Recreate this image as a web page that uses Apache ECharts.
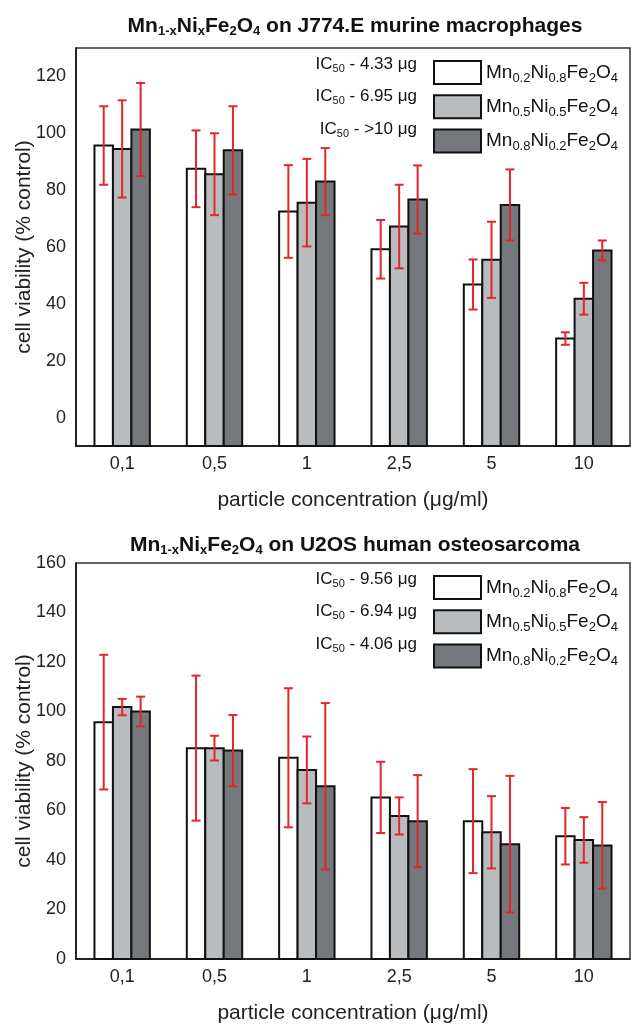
<!DOCTYPE html>
<html>
<head>
<meta charset="utf-8">
<script src="https://cdn.jsdelivr.net/npm/echarts@6/dist/echarts.min.js"></script>
<style>
  body { margin: 0; background: #fff; }
  #top { width: 631px; height: 512px; }
  #bottom { width: 631px; height: 513px; }
</style>
</head>
<body>
<div id="top"></div>
<div id="bottom"></div>
<script>
const categories = ['0,1', '0,5', '1', '2,5', '5', '10']
const seriesNames = ['Mn0.2Ni0.8Fe2O4', 'Mn0.5Ni0.5Fe2O4', 'Mn0.8Ni0.2Fe2O4']

// J774.E murine macrophages
const macroLow = [95.7, 87.5, 72.5, 59.2, 46.8, 27.8]
const macroLowErr = [13.8, 13.5, 16.3, 10.3, 8.8, 2.2]
const macroMid = [94.5, 85.6, 75.6, 67.2, 55.5, 41.8]
const macroMidErr = [17.1, 14.4, 15.4, 14.7, 13.4, 5.6]
const macroHigh = [101.3, 94.0, 83.0, 76.7, 74.8, 58.8]
const macroHighErr = [16.4, 15.5, 11.8, 12.0, 12.5, 3.5]
const macroIC50 = ['4.33', '6.95', '>10']
const macroTicks = [0, 20, 40, 60, 80, 100, 120]

// U2OS human osteosarcoma
const osteoLow = [95.7, 85.2, 81.3, 65.3, 55.7, 49.6]
const osteoLowErr = [27.2, 29.3, 28.1, 14.4, 21.0, 11.4]
const osteoMid = [101.8, 85.2, 76.4, 57.8, 51.2, 48.1]
const osteoMidErr = [3.3, 5.0, 13.5, 7.5, 14.6, 9.2]
const osteoHigh = [100.0, 84.2, 69.8, 55.7, 46.4, 45.9]
const osteoHighErr = [6.0, 14.4, 33.6, 18.6, 27.6, 17.5]
const osteoIC50 = ['9.56', '6.94', '4.06']
const osteoTicks = [0, 20, 40, 60, 80, 100, 120, 140, 160]

const FONT = '"Liberation Sans", Arial, sans-serif'
const RED = '#e3262b'
const FILLS = ['#ffffff', '#b9bcbf', '#75787c']
const BORDER = '#111'
const BAR_RATIO = 0.2

// 'Mn0.2Ni0.8Fe2O4' -> rich text with subscripts
function chem(name) {
  return name.replace(/([A-Z][a-z]?)([\d.\-x]+)/g, '{m|$1}{s|$2}')
}

// bars are drawn from the axis minimum (Origin style), not from 0
function barItem(offset, base) {
  return function (params, api) {
    const bw = api.size([1, 0])[0] * BAR_RATIO
    const top = api.coord([api.value(0), api.value(1)])
    const bottom = api.coord([api.value(0), base])
    return {
      type: 'rect',
      shape: { x: top[0] + offset * bw - bw / 2, y: top[1], width: bw, height: bottom[1] - top[1] },
      style: api.style()
    }
  }
}

function errorItem(offset) {
  return function (params, api) {
    const bw = api.size([1, 0])[0] * BAR_RATIO
    const x = api.coord([api.value(0), 0])[0] + offset * bw
    const hi = api.coord([api.value(0), api.value(1) + api.value(2)])[1]
    const lo = api.coord([api.value(0), api.value(1) - api.value(2)])[1]
    const cap = 4.5
    const style = { stroke: RED, lineWidth: 2 }
    return {
      type: 'group',
      children: [
        { type: 'line', shape: { x1: x, y1: hi, x2: x, y2: lo }, style },
        { type: 'line', shape: { x1: x - cap, y1: hi, x2: x + cap, y2: hi }, style },
        { type: 'line', shape: { x1: x - cap, y1: lo, x2: x + cap, y2: lo }, style }
      ]
    }
  }
}

function makeOption(cfg) {
  const series = []
  cfg.values.forEach((vals, i) => {
    series.push({
      name: seriesNames[i],
      type: 'custom',
      renderItem: barItem(i - 1, cfg.min),
      data: vals.map((v, k) => [k, v]),
      encode: { x: 0, y: 1 },
      itemStyle: { color: FILLS[i], borderColor: BORDER, borderWidth: 2 },
      z: 2
    })
  })
  cfg.errors.forEach((errs, i) => {
    series.push({
      name: 'err' + i,
      type: 'custom',
      renderItem: errorItem(i - 1),
      data: errs.map((e, k) => [k, cfg.values[i][k], e]),
      encode: { x: 0, y: 1 },
      z: 5
    })
  })

  const rows = cfg.ic50.map((v, i) => ({
    type: 'text',
    right: 631 - 417,
    top: cfg.legendTop + i * 32.3 + 1,
    style: {
      text: '{a|IC}{s|50}{a| - ' + v + ' \u03bcg}',
      fill: '#111',
      rich: {
        a: { fontSize: 17, fontFamily: FONT, fill: '#111' },
        s: { fontSize: 11, fontFamily: FONT, fill: '#111', verticalAlign: 'bottom', padding: [9, 0, 0, 0] }
      }
    }
  }))

  return {
    animation: false,
    title: {
      text: chem(cfg.title).replace(/\{m\|/g, '{t|') + '{t|' + cfg.titleRest + '}',
      left: 350,
      textAlign: 'center',
      top: cfg.titleTop,
      textStyle: {
        rich: {
          t: { fontSize: 21, fontWeight: 'bold', fontFamily: FONT, color: '#111' },
          s: { fontSize: 13, fontWeight: 'bold', fontFamily: FONT, color: '#111', verticalAlign: 'bottom', padding: [11, 0, 0, 0] }
        }
      }
    },
    legend: {
      data: seriesNames.map((n, i) => ({
        name: n,
        itemStyle: { color: FILLS[i], borderColor: BORDER, borderWidth: 2 }
      })),
      orient: 'vertical',
      left: 428,
      top: cfg.legendTop,
      itemWidth: 47,
      itemHeight: 23,
      itemGap: 9.3,
      icon: 'rect',
      selectedMode: false,
      formatter: chem,
      textStyle: {
        rich: {
          m: { fontSize: 19, fontFamily: FONT, color: '#111' },
          s: { fontSize: 13, fontFamily: FONT, color: '#111', verticalAlign: 'bottom', padding: [11, 0, 0, 0] }
        }
      }
    },
    graphic: rows,
    grid: {
      left: 76, right: 1, top: cfg.gridTop, bottom: 66,
      outerBoundsMode: 'none',
      containLabel: false,
      show: true, borderColor: '#333', borderWidth: 1.5
    },
    xAxis: [{
      type: 'category',
      data: categories,
      axisLine: { onZero: false, lineStyle: { color: '#111', width: 1.5 } },
      axisTick: { alignWithLabel: true, length: 5, lineStyle: { color: '#111', width: 1.2 } },
      axisLabel: { fontSize: 18, fontFamily: FONT, color: '#222', margin: 9 },
      name: 'particle concentration (\u03bcg/ml)',
      nameLocation: 'middle',
      nameGap: 44,
      nameMoveOverlap: false,
      nameTextStyle: { fontSize: 21, fontFamily: FONT, color: '#222' }
    }, {
      type: 'category',
      data: categories,
      position: 'bottom',
      axisLine: { show: false, onZero: false },
      axisTick: { length: 5, lineStyle: { color: '#111', width: 1.2 } },
      axisLabel: { show: false }
    }],
    yAxis: [{
      type: 'value',
      min: cfg.min,
      max: cfg.max,
      interval: 10,
      splitLine: { show: false },
      axisLine: { show: true, lineStyle: { color: '#111', width: 1.5 } },
      axisTick: { length: 3.5, lineStyle: { color: '#111', width: 1.2 } },
      axisLabel: { customValues: cfg.ticks, fontSize: 18, fontFamily: FONT, color: '#222', margin: 10 },
      name: 'cell viability (% control)',
      nameLocation: 'middle',
      nameGap: 41,
      nameMoveOverlap: false,
      nameTextStyle: { fontSize: 21, fontFamily: FONT, color: '#222' }
    }, {
      type: 'value',
      min: cfg.min,
      max: cfg.max,
      interval: 10,
      position: 'left',
      splitLine: { show: false },
      axisLine: { show: false },
      axisTick: { customValues: cfg.ticks, length: 7, lineStyle: { color: '#111', width: 1.2 } },
      axisLabel: { show: false }
    }],
    series
  }
}

const topChart = echarts.init(document.getElementById('top'))
topChart.setOption(makeOption({
  title: 'Mn1-xNixFe2O4',
  titleRest: ' on J774.E murine macrophages',
  titleTop: 9,
  gridTop: 48,
  legendTop: 55,
  min: -10,
  max: 130,
  ticks: macroTicks,
  values: [macroLow, macroMid, macroHigh],
  errors: [macroLowErr, macroMidErr, macroHighErr],
  ic50: macroIC50
}))

const bottomChart = echarts.init(document.getElementById('bottom'))
bottomChart.setOption(makeOption({
  title: 'Mn1-xNixFe2O4',
  titleRest: ' on U2OS human osteosarcoma',
  titleTop: 16,
  gridTop: 51,
  legendTop: 58,
  min: 0,
  max: 160,
  ticks: osteoTicks,
  values: [osteoLow, osteoMid, osteoHigh],
  errors: [osteoLowErr, osteoMidErr, osteoHighErr],
  ic50: osteoIC50
}))
</script>
</body>
</html>
